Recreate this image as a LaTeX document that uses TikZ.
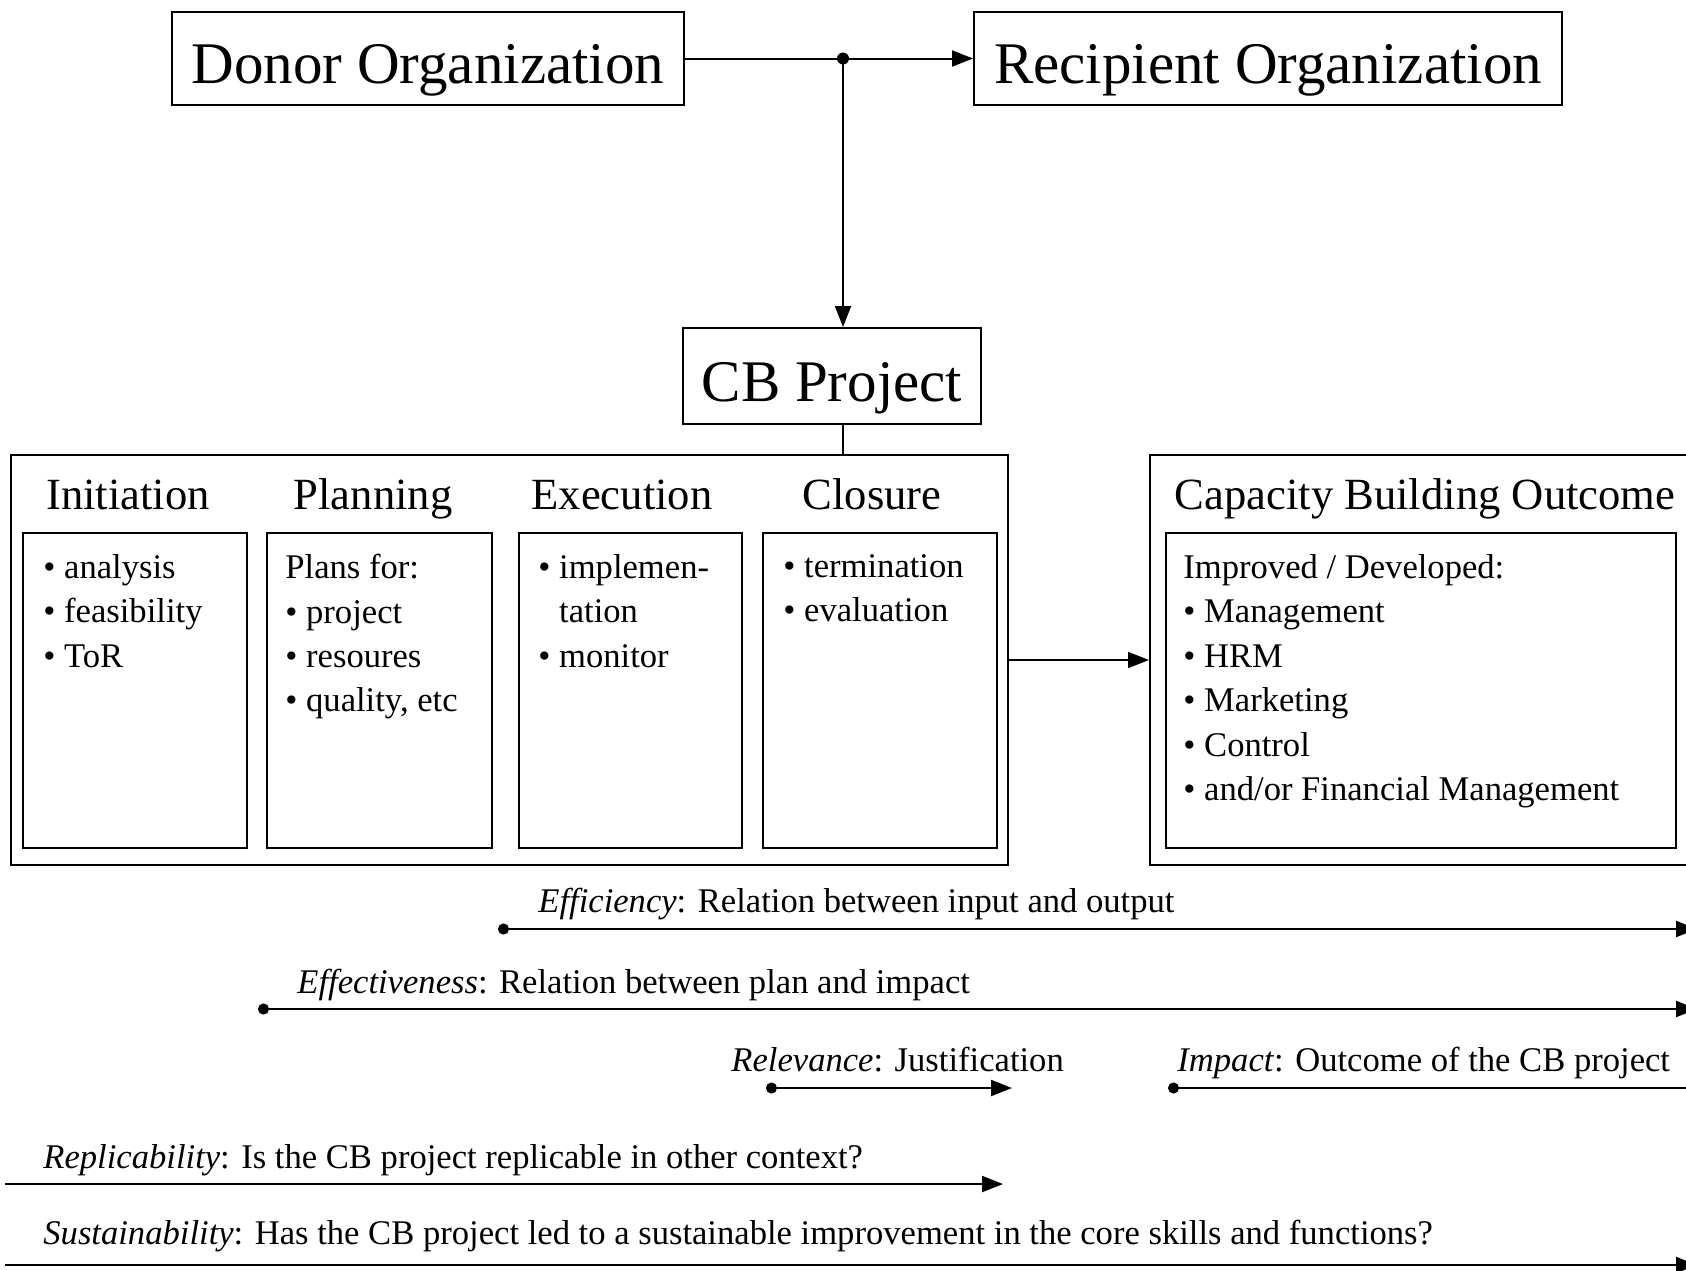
\documentclass[tikz,border=0pt]{standalone}
\usepackage{fontspec}
\setmainfont{Liberation Serif}
\usetikzlibrary{arrows.meta}
\begin{document}
\begin{tikzpicture}[x=0.5pt,y=-0.5pt,
  box/.style={draw, line width=1pt, rectangle, inner sep=0pt},
  titlebox/.style={box, font=\fontsize{29.5}{34}\selectfont, text height=25pt, text depth=0pt},
  heading/.style={anchor=base, inner sep=0pt, font=\fontsize{22.3}{26}\selectfont},
  bodytext/.style={anchor=north west, inner sep=0pt, align=left,
     font=\fontsize{17.3}{22.2}\selectfont, execute at begin node={\rule{0pt}{14pt}}},
  linetext/.style={anchor=base west, inner sep=0pt, font=\fontsize{17.3}{22.2}\selectfont},
  wire/.style={line width=1pt},
  conn/.style={line width=1pt, -{Triangle[length=10.5pt,width=8pt]}},
  dotconn/.style={line width=1pt, {Circle[length=5.5pt]}-{Triangle[length=10.5pt,width=8pt]}},
  dotline/.style={line width=1pt, {Circle[length=5.5pt]}-}
]
\useasboundingbox (0,0) rectangle (1686,1270);

% top boxes
\node[titlebox, minimum width=256pt, minimum height=46.5pt] (donor) at (428,58.5) {Donor Organization};
\node[titlebox, minimum width=294pt, minimum height=46.5pt] (recipient) at (1268,58.5) {Recipient Organization};
\node[titlebox, minimum width=149pt, minimum height=48pt] (cb) at (832,376) {CB Project};

\coordinate (j) at (843,58.5);
\draw[wire] (donor.east) -- (j);
\draw[conn] (j) -- (recipient.west);
\draw[conn] (j) -- (j |- cb.north);
\fill (j) circle (3pt);

% phase box
\node[box, minimum width=498.5pt, minimum height=205pt] (phase) at (509.5,660) {};
\draw[wire] (cb.south -| j) -- (j |- phase.north);

\node[heading] (hinit) at (128,509) {Initiation};
\node[heading] (hplan) at (373,509) {Planning};
\node[heading] (hexec) at (622,509) {Execution};
\node[heading] (hclos) at (872,509) {Closure};

\node[box, minimum width=112pt, minimum height=157.5pt] (s1) at (135,690.5) {};
\node[box, minimum width=112.5pt, minimum height=157.5pt] (s2) at (379.5,690.5) {};
\node[box, minimum width=111.5pt, minimum height=157.5pt] (s3) at (630.5,690.5) {};
\node[box, minimum width=117pt, minimum height=157.5pt] (s4) at (880,690.5) {};

\node[bodytext] (t1) at (43,554) {\textbullet{} analysis\\\textbullet{} feasibility\\\textbullet{} ToR};
\node[bodytext] (t2) at (285,554) {Plans for:\\\textbullet{} project\\\textbullet{} resoures\\\textbullet{} quality, etc};
\node[bodytext] (t3) at (538,554) {\textbullet{} implemen-\\\phantom{\textbullet{} }tation\\\textbullet{} monitor};
\node[bodytext] (t4) at (783,554) {\textbullet{} termination\\\textbullet{} evaluation};

% outcome
\node[box, minimum width=270pt, minimum height=205pt] (outcome) at (1420,660) {};
\node[heading] (hout) at (1425,509) {Capacity Building Outcome};
\node[box, minimum width=255pt, minimum height=157.5pt] (oin) at (1421,690.5) {};
\node[bodytext] (t5) at (1183,554) {Improved / Developed:\\\textbullet{} Management\\\textbullet{} HRM\\\textbullet{} Marketing\\\textbullet{} Control\\\textbullet{} and/or Financial Management};

\draw[conn] (phase.east) -- (outcome.west);

% criteria lines
\node[linetext] (leff) at (538,912) {\textit{Efficiency}: Relation between input and output};
\coordinate (eff1) at (498,929); \coordinate (eff2) at (1697,929);
\draw[dotconn] (eff1) -- (eff2);

\node[linetext] (lefv) at (297,993) {\textit{Effectiveness}: Relation between plan and impact};
\coordinate (efv1) at (258,1009); \coordinate (efv2) at (1697,1009);
\draw[dotconn] (efv1) -- (efv2);

\node[linetext] (lrel) at (731,1071) {\textit{Relevance}: Justification};
\coordinate (rel1) at (766,1088); \coordinate (rel2) at (1012,1088);
\draw[dotconn] (rel1) -- (rel2);

\node[linetext] (limp) at (1177,1071) {\textit{Impact}: Outcome of the CB project};
\coordinate (imp1) at (1168,1088); \coordinate (imp2) at (1700,1088);
\draw[dotline] (imp1) -- (imp2);

\node[linetext] (lrep) at (43,1168) {\textit{Replicability}: Is the CB project replicable in other context?};
\coordinate (rep1) at (5,1184); \coordinate (rep2) at (1003,1184);
\draw[conn] (rep1) -- (rep2);

\node[linetext] (lsus) at (43,1244) {\textit{Sustainability}: Has the CB project led to a sustainable improvement in the core skills and functions?};
\coordinate (sus1) at (5,1265); \coordinate (sus2) at (1697,1265);
\draw[conn] (sus1) -- (sus2);
\end{tikzpicture}
\end{document}
